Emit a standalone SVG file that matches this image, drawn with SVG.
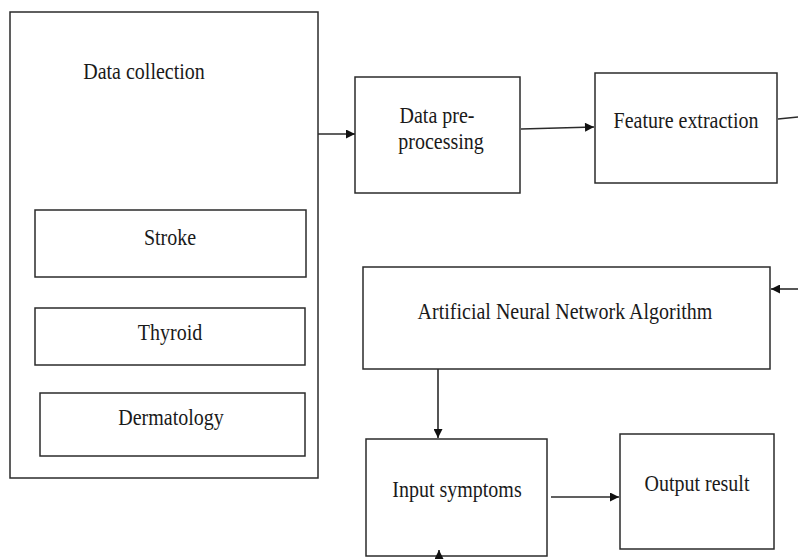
<svg xmlns="http://www.w3.org/2000/svg" width="798" height="559" viewBox="0 0 798 559">
<style>
.box{fill:#fff;stroke:#2b2b2b;stroke-width:1.5}
.lbl{font-family:"Liberation Serif","Times New Roman",serif;font-size:20px;fill:#1a1a1a;text-anchor:middle}
.con{stroke:#2b2b2b;stroke-width:1.6;fill:none}
</style>
<defs>
<marker id="ah" viewBox="0 0 10 10" refX="10" refY="5" markerWidth="10" markerHeight="9" markerUnits="userSpaceOnUse" orient="auto">
<path d="M0,0 L10,5 L0,10 Z" fill="#111"/>
</marker>
</defs>
<rect width="798" height="559" fill="#fff"/>
<g id="data-collection">
<rect class="box" x="10" y="12" width="308" height="466"/>
<text class="lbl" transform="translate(144,79) scale(1,1.2)">Data collection</text>
</g>
<g id="stroke">
<rect class="box" x="35" y="210" width="271" height="67"/>
<text class="lbl" transform="translate(170,245) scale(1,1.2)">Stroke</text>
</g>
<g id="thyroid">
<rect class="box" x="35" y="308" width="270" height="57"/>
<text class="lbl" transform="translate(170,340) scale(1,1.2)">Thyroid</text>
</g>
<g id="dermatology">
<rect class="box" x="40" y="393" width="265" height="63"/>
<text class="lbl" transform="translate(171,425) scale(1,1.2)">Dermatology</text>
</g>
<g id="preprocessing">
<rect class="box" x="355" y="77" width="165" height="116"/>
<text class="lbl" transform="translate(437,123) scale(1,1.2)">Data pre-</text>
<text class="lbl" transform="translate(441,149) scale(1,1.2)">processing</text>
</g>
<g id="feature-extraction">
<rect class="box" x="595" y="73" width="182" height="110"/>
<text class="lbl" transform="translate(686,128) scale(1,1.2)">Feature extraction</text>
</g>
<g id="ann">
<rect class="box" x="363" y="267" width="407" height="102"/>
<text class="lbl" transform="translate(565,319) scale(1,1.2)">Artificial Neural Network Algorithm</text>
</g>
<g id="input-symptoms">
<rect class="box" x="366" y="439" width="181" height="117"/>
<text class="lbl" transform="translate(457,497) scale(1,1.2)">Input symptoms</text>
</g>
<g id="output-result">
<rect class="box" x="620" y="434" width="154" height="115"/>
<text class="lbl" transform="translate(697,491) scale(1,1.2)">Output result</text>
</g>
<g id="connectors">
<line class="con" x1="318" y1="134" x2="355" y2="134" marker-end="url(#ah)"/>
<line class="con" x1="521" y1="129" x2="594" y2="127" marker-end="url(#ah)"/>
<line class="con" x1="778" y1="119" x2="798" y2="117"/>
<line class="con" x1="798" y1="289" x2="771" y2="289" marker-end="url(#ah)"/>
<line class="con" x1="438" y1="369" x2="438" y2="438" marker-end="url(#ah)"/>
<line class="con" x1="551" y1="497" x2="619" y2="497" marker-end="url(#ah)"/>
<line class="con" x1="439" y1="570" x2="439" y2="550" marker-end="url(#ah)"/>
</g>
</svg>
